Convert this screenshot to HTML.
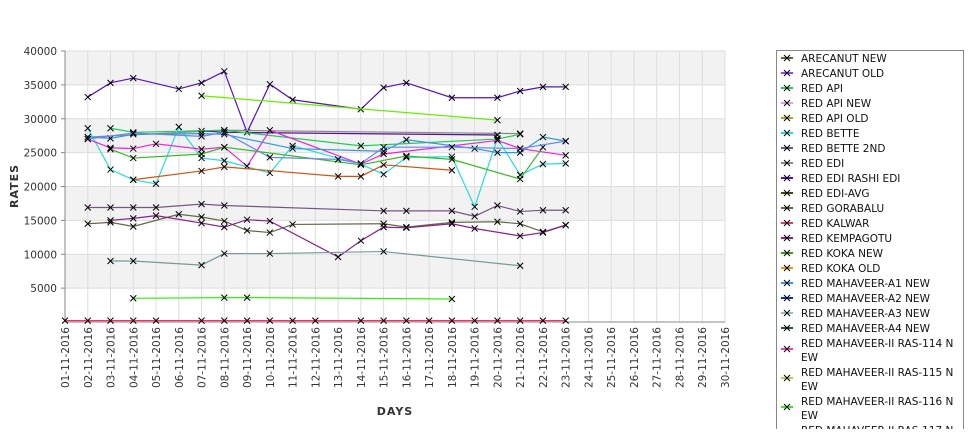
<!DOCTYPE html>
<html><head><meta charset="utf-8"><style>
body{margin:0;background:#fff;font-family:"Liberation Sans","DejaVu Sans",sans-serif;}
svg text{font-family:"DejaVu Sans","Liberation Sans",sans-serif;}
</style></head><body>
<svg id="chart" width="975" height="429" xmlns="http://www.w3.org/2000/svg">
<g id="bands"></g><g id="grid"></g><g id="axes"></g><g id="series"></g><g id="legend"></g>
</svg>
<script>
const days = Array.from({length:30},(_,i)=>String(i+1).padStart(2,'0')+'-11-2016');
const yTicks = [5000,10000,15000,20000,25000,30000,35000,40000];
const seriesNames = ["RED EDI RASHI EDI","RED MAHAVEER-II RAS-116 NEW","RED EDI","RED BETTE 2ND B","RED API","RED BETTE","RED MAHAVEER-II RAS-114 NEW","RED KOKA NEW","RED KOKA OLD","RED BETTE 2ND","RED GORABALU","RED KEMPAGOTU","RED MAHAVEER-A3 NEW","RED MAHAVEER-II RAS-115 NEW","RED MAHAVEER-A1 NEW","RED MAHAVEER-A2 NEW","RED KALWAR"];
const seriesColors = ["#5511bb","#66ee00","#888888","#551199","#22cc55","#22dddd","#ee22dd","#33bb22","#cc5511","#775588","#666644","#882288","#779999","#33ee11","#3399dd","#6688ee","#ee3366"];
const seriesDays = [
 [2,3,4,6,7,8,9,10,11,14,15,16,18,20,21,22,23],
 [7,20],
 [2,8,21],
 [7,8,20],
 [3,4,8,14,20,21],
 [2,3,4,5,6,7,8,10,11,14,15,16,18,19,20,21,22,23],
 [2,3,4,5,7,8,9,10,14,15,20,21,23],
 [3,4,7,8,14,16,18,21,22],
 [4,7,8,13,14,15,18],
 [2,3,4,5,7,8,15,16,18,19,20,21,22,23],
 [2,3,4,6,7,8,9,10,11,15,16,18,20,21,22,23],
 [3,4,5,7,8,9,10,13,14,15,16,18,19,21,22,23],
 [3,4,7,8,10,15,21],
 [4,8,9,18],
 [2,3,4,7,8,11,15,16,19,20,21,22,23],
 [2,4,7,8,10,13,14,15,18,21,23],
 [1,2,3,4,5,7,8,9,10,11,12,14,15,16,17,18,19,20,21,22,23]
];
const seriesValues = [
 [33200,35300,36000,34400,35300,37000,28000,35100,32800,31400,34600,35300,33100,33100,34100,34700,34700],
 [33400,29800],
 [27300,28300,27800],
 [28200,28000,27600],
 [28600,28000,28300,26000,27000,27700],
 [28600,22500,21000,20400,28800,24200,23800,22000,26000,23300,21800,24300,24400,17000,27100,21700,23300,23400],
 [27000,25700,25600,26300,25500,25800,23000,28300,23300,24800,26800,25600,24600],
 [25500,24200,24800,25800,23200,24500,24000,21100,25800],
 [21000,22300,22900,21500,21500,23200,22400],
 [16900,16900,16900,16900,17400,17200,16400,16400,16400,15600,17200,16300,16500,16500],
 [14500,14700,14100,15900,15500,14900,13500,13200,14400,14500,14000,14700,14800,14500,13300,14300],
 [15000,15300,15700,14600,14000,15100,14900,9600,12000,14000,13900,14500,13800,12700,13200,14300],
 [9000,9000,8400,10100,10100,10400,8300],
 [3500,3600,3600,3400],
 [27300,27100,27700,27800,27700,25600,25200,26900,25600,25000,25000,27300,26700],
 [27000,27900,27400,28000,24300,24000,23400,25800,25800,25600,26700],
 [200,200,200,200,200,200,200,200,200,200,200,200,200,200,200,200,200,200,200,200,200]
];
const legendNames = ["ARECANUT NEW","ARECANUT OLD","RED API","RED API NEW","RED API OLD","RED BETTE","RED BETTE 2ND","RED EDI","RED EDI RASHI EDI","RED EDI-AVG","RED GORABALU","RED KALWAR","RED KEMPAGOTU","RED KOKA NEW","RED KOKA OLD","RED MAHAVEER-A1 NEW","RED MAHAVEER-A2 NEW","RED MAHAVEER-A3 NEW","RED MAHAVEER-A4 NEW","RED MAHAVEER-II RAS-114 N|EW","RED MAHAVEER-II RAS-115 N|EW","RED MAHAVEER-II RAS-116 N|EW","RED MAHAVEER-II RAS-117 N|EW"];
const legendColors = ["#666633","#9944ee","#22cc55","#ee99ee","#aaaa00","#22dddd","#775588","#888888","#5511bb","#444411","#666644","#ee3366","#882288","#449911","#ee9900","#3399dd","#1133aa","#99bbcc","#225544","#ee44aa","#bbcc66","#33ee11","#555555"];

const NS="http://www.w3.org/2000/svg";
const X0=65,X1=725,Y0=322,Y1=51,YMAX=40000;
const xS=d=>X0+(X1-X0)*(d-1)/29;
const yS=v=>Y0-(Y0-Y1)*v/YMAX;
function mk(t,a,p){const e=document.createElementNS(NS,t);for(const k in a)e.setAttribute(k,a[k]);p.appendChild(e);return e;}
const bands=document.getElementById('bands'),grid=document.getElementById('grid'),axes=document.getElementById('axes'),ser=document.getElementById('series'),leg=document.getElementById('legend');
const pb=mk('rect',{x:X0,y:Y1,width:X1-X0,height:Y0-Y1,fill:'#fff'},bands);


for(let b=5000;b<40000;b+=10000){
 const r=mk('rect',{x:X0,y:yS(b+5000),width:X1-X0,height:yS(b)-yS(b+5000),fill:'#f2f2f2'},bands);
 
 
}
yTicks.forEach(v=>{
 const l=mk('line',{x1:X0,x2:X1,y1:yS(v),y2:yS(v),stroke:'#dddddd'},grid);
 
 
 mk('line',{x1:X0-4,x2:X0,y1:yS(v),y2:yS(v),stroke:'#888'},axes);
 const t=mk('text',{x:57,y:yS(v)+4,'text-anchor':'end','font-size':10.5,fill:'#333'},axes);
 t.textContent=v;
 
 
});
days.forEach((d,i)=>{
 const x=xS(i+1);
 const l=mk('line',{x1:x,x2:x,y1:Y1,y2:Y0,stroke:'#dddddd'},grid);
 
 
 const t=mk('text',{x:0,y:0,'text-anchor':'end','font-size':10.5,fill:'#333',transform:`translate(${x+4},327) rotate(-90)`},axes);
 t.textContent=d;
 
 
});
const ax=mk('path',{d:`M${X0},${Y1}V${Y0}H${X1}`,fill:'none',stroke:'#888'},axes);


const yt=mk('text',{x:0,y:0,'font-size':11,'font-weight':'bold','text-anchor':'middle',fill:'#333',transform:'translate(18,186) rotate(-90)','letter-spacing':'1'},axes);
yt.textContent='RATES';


const xt=mk('text',{x:395,y:415,'font-size':11,'font-weight':'bold','text-anchor':'middle',fill:'#333','letter-spacing':'1'},axes);
xt.textContent='DAYS';



seriesValues.forEach((vals,si)=>{
 const g=mk('g',{},ser);
 
 
 const pts=vals.map((v,j)=>[xS(seriesDays[si][j]),yS(v)]);
 const ln=mk('polyline',{points:pts.map(p=>p.join(',')).join(' '),fill:'none',stroke:seriesColors[si],'stroke-width':1.2},g);
 
 
 pts.forEach(p=>{
  const m=mk('path',{d:`M${p[0]-3},${p[1]-3}l6,6M${p[0]+3},${p[1]-3}l-6,6`,stroke:'#000','stroke-width':1},g);
  
  
 });
});

const lb=mk('rect',{x:776.5,y:50.5,width:187,height:400,fill:'#fff',stroke:'#888'},leg);


let ly=58;
legendNames.forEach((n,i)=>{
 const parts=n.split('|');
 const g=mk('g',{},leg);
 
 
 const cy=parts.length>1?ly+6:ly;
 mk('line',{x1:781,x2:793,y1:cy,y2:cy,stroke:legendColors[i],'stroke-width':2},g);
 mk('path',{d:`M784,${cy-3}l6,6M790,${cy-3}l-6,6`,stroke:'#000'},g);
 parts.forEach((p,k)=>{
  const t=mk('text',{x:801,y:ly+4+k*14,'font-size':10.5,fill:'#111'},g);
  t.textContent=p;
 });
 ly+=parts.length>1?29:15;
});
</script>
</body></html>
